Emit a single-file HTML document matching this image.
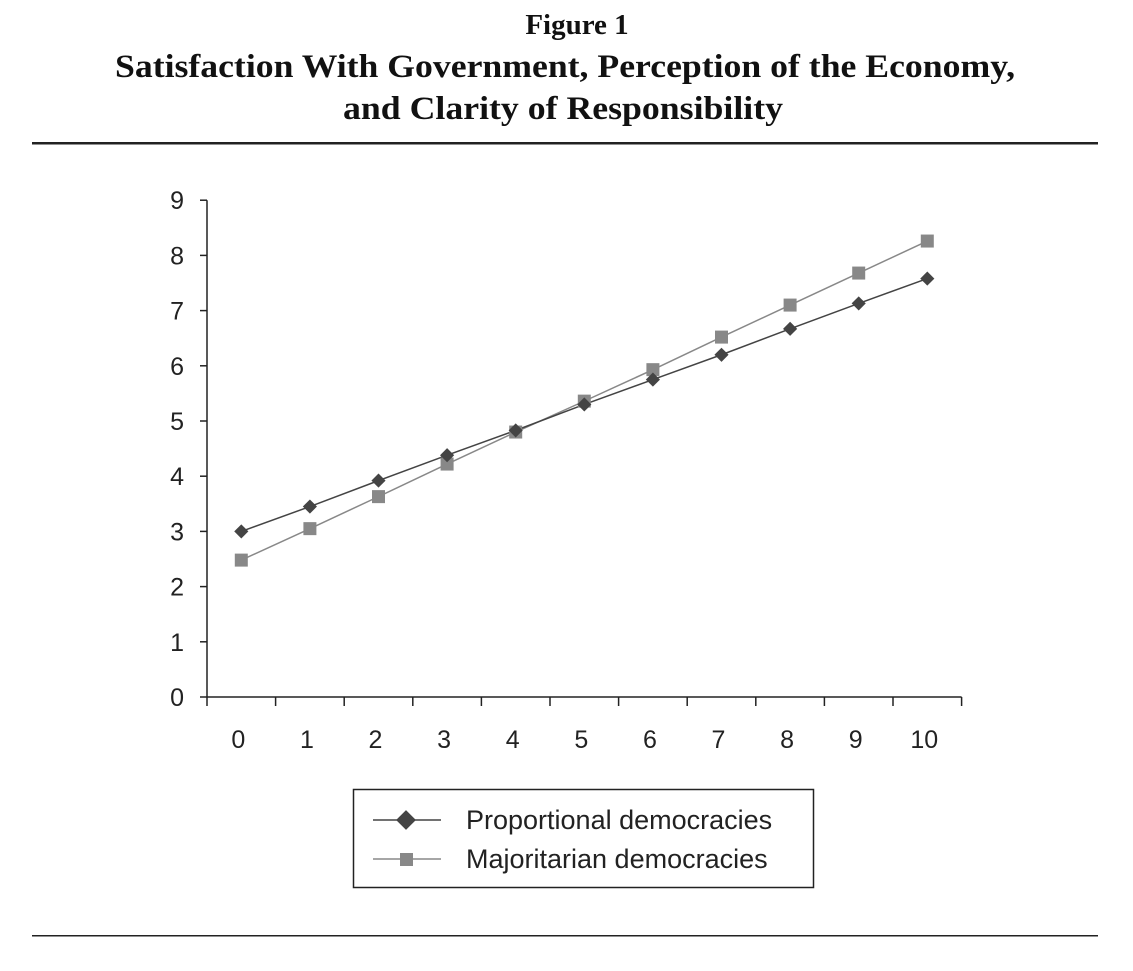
<!DOCTYPE html>
<html><head><meta charset="utf-8"><style>
body{margin:0;background:#fff;width:1133px;height:971px;overflow:hidden}
svg{display:block}
</style></head><body>
<svg width="1133" height="971">
<g font-family="Liberation Serif, serif" font-weight="bold" font-size="33" text-anchor="middle" fill="#111">
<text x="577" y="34" font-size="29">Figure 1</text>
<text x="565" y="77" textLength="900" lengthAdjust="spacingAndGlyphs">Satisfaction With Government, Perception of the Economy,</text>
<text x="563" y="119" textLength="440" lengthAdjust="spacingAndGlyphs">and Clarity of Responsibility</text>
</g>
<rect x="32" y="142" width="1066" height="2.5" fill="#222"/>
<rect x="32" y="935" width="1066" height="1.5" fill="#222"/>
<g id="plot"></g>
<g>
<rect x="353.5" y="789.5" width="460" height="98" fill="none" stroke="#222" stroke-width="1.5"/>
<line x1="373" y1="820" x2="441" y2="820" stroke="#444" stroke-width="1.5"/>
<rect x="399" y="813" width="14" height="14" fill="#444" transform="rotate(45 406 820)"/>
<text x="466" y="829" font-family="Liberation Sans, sans-serif" font-size="27" fill="#222">Proportional democracies</text>
<line x1="373" y1="859" x2="441" y2="859" stroke="#888" stroke-width="1.5"/>
<rect x="400" y="853" width="13" height="13" fill="#888"/>
<text x="466" y="868" font-family="Liberation Sans, sans-serif" font-size="27" fill="#222">Majoritarian democracies</text>
</g>
</svg>
<script>
const categories=[0,1,2,3,4,5,6,7,8,9,10];
const yTicks=[0,1,2,3,4,5,6,7,8,9];
const proportional=[3.0,3.45,3.92,4.38,4.83,5.3,5.75,6.2,6.67,7.13,7.58];
const majoritarian=[2.48,3.05,3.63,4.22,4.8,5.36,5.93,6.52,7.1,7.68,8.26];
const NS="http://www.w3.org/2000/svg";
const g=document.getElementById('plot');
const x0=207,bw=68.6,y0=697,yu=55.2;
const xs=i=>x0+bw*(i+0.5);
const ys=v=>y0-v*yu;
function mk(t,a){const e=document.createElementNS(NS,t);for(const k in a)e.setAttribute(k,a[k]);g.appendChild(e);return e;}
let e=mk('line',{x1:x0,y1:ys(9),x2:x0,y2:y0,stroke:'#222','stroke-width':1.5});


e=mk('line',{x1:x0,y1:y0,x2:x0+bw*categories.length,y2:y0,stroke:'#222','stroke-width':1.5});


yTicks.forEach(v=>{
 mk('line',{x1:x0-7,y1:ys(v),x2:x0,y2:ys(v),stroke:'#222','stroke-width':1.5});
 const t=mk('text',{x:184,y:ys(v)+9,'text-anchor':'end','font-family':'Liberation Sans, sans-serif','font-size':25,fill:'#222'});
 t.textContent=v;
 
 
});
for(let i=0;i<=categories.length;i++)mk('line',{x1:x0+bw*i,y1:y0,x2:x0+bw*i,y2:y0+9,stroke:'#222','stroke-width':1.5});
categories.forEach((c,i)=>{
 const t=mk('text',{x:xs(i)-3,y:y0+51,'text-anchor':'middle','font-family':'Liberation Sans, sans-serif','font-size':25,fill:'#222'});
 t.textContent=c;
 
 
});
e=mk('polyline',{points:majoritarian.map((v,i)=>xs(i)+','+ys(v)).join(' '),fill:'none',stroke:'#888','stroke-width':1.5});


e=mk('polyline',{points:proportional.map((v,i)=>xs(i)+','+ys(v)).join(' '),fill:'none',stroke:'#444','stroke-width':1.5});


majoritarian.forEach((v,i)=>{
 const r=mk('rect',{x:xs(i)-6.5,y:ys(v)-6.5,width:13,height:13,fill:'#888'});
 
 
});
proportional.forEach((v,i)=>{
 const r=mk('rect',{x:xs(i)-5,y:ys(v)-5,width:10,height:10,fill:'#444',transform:`rotate(45 ${xs(i)} ${ys(v)})`});
 
 
});
</script>
</body></html>
